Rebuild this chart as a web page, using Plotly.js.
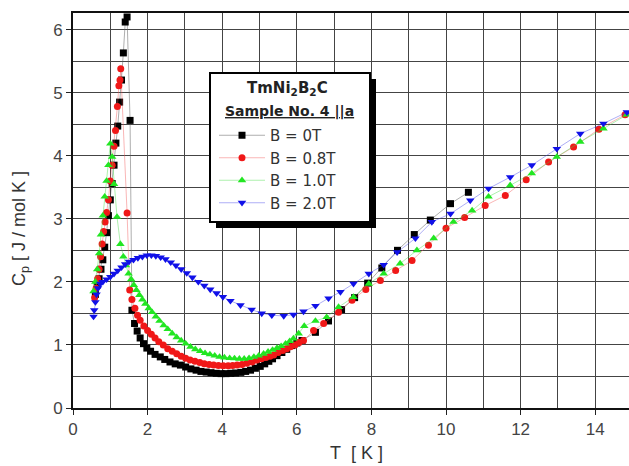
<!DOCTYPE html>
<html>
<head>
<meta charset="utf-8">
<script src="https://cdn.plot.ly/plotly-3.0.1.min.js"></script>
<style>
  html, body { margin: 0; padding: 0; overflow: hidden; background: #fff; }
  #chart { width: 640px; height: 466px; }
</style>
</head>
<body>
<div id="chart"></div>
<script>
// Specific heat of TmNi2B2C (sample No. 4, field || a) at several applied fields.

// B = 0 T
const T_0T = [0.60,0.65,0.70,0.75,0.80,0.85,0.90,0.95,1.00,1.05,
  1.10,1.15,1.20,1.25,1.30,1.35,1.40,1.45,1.53,1.58,
  1.65,1.72,1.80,1.89,1.98,2.08,2.20,2.34,2.46,2.60,
  2.74,2.88,3.02,3.16,3.30,3.43,3.57,3.70,3.84,3.97,
  4.10,4.23,4.36,4.50,4.63,4.76,4.89,5.02,5.14,5.25,
  5.35,5.47,5.60,5.73,5.87,6.00,6.14,6.50,6.85,7.20,
  7.55,7.90,8.28,8.70,9.15,9.58,10.12,10.60];
const Cp_0T = [1.80,1.95,2.05,2.20,2.35,2.55,2.78,3.05,3.30,3.56,
  3.85,4.20,4.47,4.85,5.20,5.63,6.12,6.20,4.56,1.55,
  1.34,1.22,1.11,1.02,0.95,0.90,0.85,0.81,0.77,0.73,
  0.70,0.68,0.65,0.62,0.60,0.58,0.57,0.56,0.55,0.545,
  0.545,0.55,0.555,0.565,0.58,0.60,0.63,0.66,0.70,0.74,
  0.78,0.83,0.88,0.93,0.99,1.03,1.07,1.20,1.38,1.56,
  1.75,1.98,2.22,2.50,2.75,2.98,3.24,3.42];

// B = 0.8 T
const T_08T = [0.58,0.62,0.66,0.70,0.74,0.78,0.82,0.86,0.90,0.95,
  1.00,1.05,1.10,1.14,1.19,1.23,1.26,1.28,1.45,1.52,
  1.58,1.66,1.73,1.80,1.90,2.00,2.10,2.20,2.30,2.42,
  2.54,2.66,2.78,2.90,3.02,3.14,3.27,3.40,3.52,3.65,
  3.77,3.90,4.03,4.16,4.28,4.40,4.53,4.66,4.80,4.93,
  5.05,5.17,5.28,5.38,5.50,5.62,5.73,5.83,5.95,6.06,
  6.18,6.45,6.72,7.12,7.48,7.85,8.24,8.65,9.09,9.53,
  10.00,10.50,11.05,11.59,12.15,12.75,13.42,14.10,14.80];
const Cp_08T = [1.75,1.90,2.05,2.20,2.40,2.60,2.80,2.95,3.10,3.30,
  3.60,3.85,4.15,4.40,4.78,5.11,5.20,5.38,3.09,1.87,
  1.72,1.58,1.47,1.39,1.30,1.23,1.17,1.11,1.05,1.00,
  0.94,0.90,0.86,0.82,0.79,0.76,0.74,0.72,0.70,0.69,
  0.68,0.675,0.67,0.67,0.675,0.68,0.69,0.71,0.73,0.76,
  0.78,0.80,0.82,0.84,0.88,0.91,0.94,0.97,1.00,1.04,
  1.07,1.23,1.34,1.52,1.71,1.88,2.02,2.18,2.34,2.58,
  2.85,3.02,3.21,3.37,3.62,3.90,4.14,4.42,4.65];

// B = 1.0 T
const T_10T = [0.55,0.60,0.65,0.70,0.75,0.80,0.85,0.90,0.95,1.00,
  1.05,1.10,1.18,1.27,1.35,1.42,1.49,1.56,1.63,1.70,
  1.78,1.86,1.94,2.03,2.12,2.22,2.32,2.43,2.54,2.66,
  2.78,2.90,3.02,3.15,3.28,3.41,3.54,3.67,3.80,3.93,
  4.06,4.20,4.33,4.46,4.59,4.72,4.85,4.98,5.11,5.23,
  5.35,5.47,5.58,5.70,5.81,5.91,6.05,6.20,6.50,6.80,
  7.12,7.52,7.93,8.33,8.77,9.22,9.67,10.20,10.70,11.14,
  11.72,12.30,12.97,13.60,14.22,14.85];
const Cp_10T = [1.85,2.00,2.20,2.45,2.75,3.05,3.35,3.60,3.85,4.19,
  3.98,3.55,3.03,2.60,2.40,2.26,2.13,2.04,1.95,1.87,
  1.79,1.72,1.65,1.58,1.52,1.45,1.38,1.31,1.25,1.18,
  1.12,1.07,1.02,0.97,0.93,0.90,0.87,0.85,0.83,0.81,
  0.80,0.79,0.785,0.78,0.78,0.79,0.81,0.83,0.86,0.89,
  0.92,0.95,0.98,1.02,1.06,1.10,1.18,1.30,1.38,1.44,
  1.60,1.76,1.97,2.13,2.29,2.50,2.69,2.95,3.13,3.35,
  3.53,3.72,3.98,4.22,4.43,4.65];

// B = 2.0 T
const T_20T = [0.55,0.57,0.60,0.63,0.67,0.73,0.80,0.90,1.00,1.10,
  1.20,1.30,1.40,1.50,1.62,1.74,1.86,1.98,2.10,2.22,
  2.35,2.48,2.62,2.76,2.90,3.05,3.20,3.36,3.52,3.68,
  3.85,4.02,4.22,4.49,4.79,5.06,5.33,5.65,5.91,6.18,
  6.50,6.85,7.17,7.52,7.93,8.33,8.69,9.18,9.62,10.12,
  10.65,11.14,11.72,12.30,12.97,13.60,14.22,14.85];
const Cp_20T = [1.45,1.55,1.68,1.80,1.90,1.97,2.00,2.04,2.08,2.13,
  2.18,2.23,2.28,2.32,2.35,2.38,2.40,2.42,2.42,2.41,
  2.39,2.36,2.31,2.26,2.20,2.14,2.07,2.00,1.94,1.88,
  1.82,1.76,1.70,1.63,1.56,1.50,1.47,1.46,1.48,1.53,
  1.62,1.74,1.84,1.97,2.13,2.27,2.47,2.69,2.95,3.08,
  3.29,3.48,3.66,3.85,4.11,4.35,4.51,4.69];

const seriesNames = ['B = 0T', 'B = 0.8T', 'B = 1.0T', 'B = 2.0T'];
const legendTitle = ['TmNi<sub>2</sub>B<sub>2</sub>C', 'Sample No. 4 ||a'];
const xTitle = 'T\u00a0 [ K ]';
const yTitle = 'C<sub>p</sub> [ J / mol K ]';

// plot frame in pixels (used to place the legend box and titles)
const W = 640, H = 466, L = 73, R = 0, TOP = 13, BOT = 58;
const plotW = W - L - R, plotH = H - TOP - BOT;
const PX = v => (v - L) / plotW;
const PY = v => (H - BOT - v) / plotH;
const pxPerK = 37.3, pxPerCp = 63.07;

function series(x, y, name, color, symbol, size, lineColor) {
  return {
    x: x, y: y, name: name, type: 'scatter', mode: 'lines+markers',
    line: { color: lineColor, width: 0.7 },
    marker: { color: color, symbol: symbol, size: size, line: { width: 0 } }
  };
}

const data = [
  series(T_0T, Cp_0T, seriesNames[0], '#000000', 'square', 7, 'rgba(90,90,90,0.7)'),
  series(T_08T, Cp_08T, seriesNames[1], '#f01818', 'circle', 7, 'rgba(240,80,80,0.6)'),
  series(T_10T, Cp_10T, seriesNames[2], '#22e622', 'triangle-up', 7.5, 'rgba(60,220,60,0.6)'),
  series(T_20T, Cp_20T, seriesNames[3], '#1010e8', 'triangle-down', 7.5, 'rgba(60,60,230,0.6)')
];

const gridCol = '#444';
const sans = 'Liberation Sans, Arial, sans-serif';
const tickFont = { family: sans, size: 17, color: '#444' };

const layout = {
  width: W, height: H,
  margin: { l: L, r: R, t: TOP, b: BOT },
  paper_bgcolor: '#fff', plot_bgcolor: '#fff',
  showlegend: true,
  xaxis: {
    range: [0, plotW / pxPerK], tick0: 0, dtick: 2,
    showgrid: true, gridcolor: gridCol, gridwidth: 1,
    minor: { dtick: 1, showgrid: true, gridcolor: gridCol, gridwidth: 1 },
    showline: true, linecolor: '#111', linewidth: 2, mirror: true,
    ticks: 'outside', ticklen: 5, tickcolor: '#222', tickwidth: 1,
    zeroline: false, tickfont: tickFont,
    title: { text: xTitle, font: { family: sans, size: 18, color: '#333' }, standoff: 8 }
  },
  yaxis: {
    range: [0, plotH / pxPerCp], tick0: 0, dtick: 1,
    showgrid: true, gridcolor: gridCol, gridwidth: 1,
    minor: { dtick: 0.5, showgrid: true, gridcolor: gridCol, gridwidth: 1 },
    showline: true, linecolor: '#111', linewidth: 2, mirror: true,
    ticks: 'outside', ticklen: 5, tickcolor: '#222', tickwidth: 1,
    zeroline: false, tickfont: tickFont
  },
  legend: {
    x: PX(214), y: PY(119), xanchor: 'left', yanchor: 'top',
    bgcolor: 'rgba(0,0,0,0)', borderwidth: 0,
    itemwidth: 46, tracegroupgap: 0,
    font: { family: 'DejaVu Sans, sans-serif', size: 15, color: '#333' }
  },
  shapes: [
    { type: 'rect', xref: 'paper', yref: 'paper', layer: 'above',
      x0: PX(216), x1: PX(376), y0: PY(228), y1: PY(79),
      fillcolor: '#000', line: { width: 0 } },
    { type: 'rect', xref: 'paper', yref: 'paper', layer: 'above',
      x0: PX(210), x1: PX(370), y0: PY(222), y1: PY(73),
      fillcolor: '#fff', line: { color: '#000', width: 2 } }
  ],
  annotations: [
    { xref: 'paper', yref: 'paper', x: PX(20), y: PY(229), xanchor: 'center', yanchor: 'middle',
      text: yTitle, textangle: -90, showarrow: false,
      font: { family: sans, size: 18, color: '#333' } },
    { xref: 'paper', yref: 'paper', x: PX(287), y: PY(88), xanchor: 'center', yanchor: 'middle',
      text: '<b>' + legendTitle[0] + '</b>', showarrow: false,
      font: { family: 'DejaVu Sans, sans-serif', size: 15, color: '#222' } },
    { xref: 'paper', yref: 'paper', x: PX(289), y: PY(111), xanchor: 'center', yanchor: 'middle',
      text: '<b><u>' + legendTitle[1] + '</u></b>', showarrow: false,
      font: { family: 'DejaVu Sans, sans-serif', size: 14, color: '#222' } }
  ]
};

Plotly.newPlot('chart', data, layout, { displayModeBar: false, staticPlot: true });
</script>
</body>
</html>
